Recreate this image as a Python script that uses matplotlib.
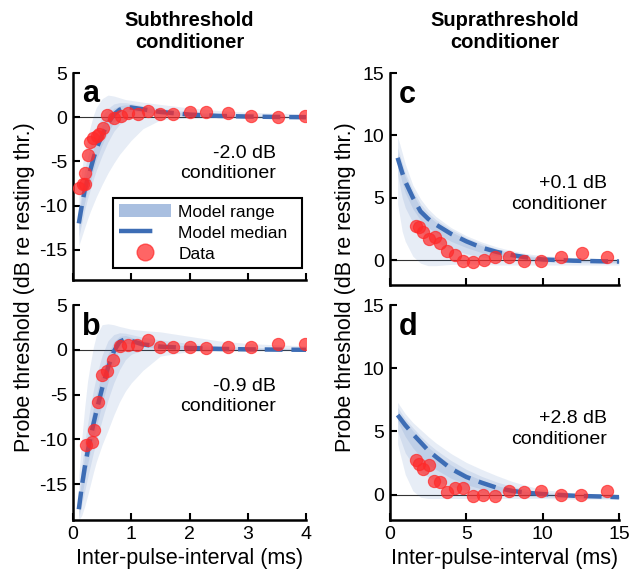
import matplotlib
matplotlib.use("Agg")
import matplotlib.pyplot as plt
from matplotlib.patches import Patch
from matplotlib.lines import Line2D

plt.rcParams["font.family"] = ["Liberation Sans", "DejaVu Sans"]
plt.rcParams["axes.unicode_minus"] = False

# ---- panel a: subthreshold, -2.0 dB ----
xa = [0.1, 0.15, 0.2, 0.25, 0.3, 0.35, 0.4, 0.5, 0.6, 0.7, 0.8, 0.9, 1.0, 1.2, 1.5, 2.0, 2.5, 3.0, 3.5, 4.0]
med_a = [-12.0, -10.0, -8.3, -7.0, -5.9, -4.7, -3.6, -2.0, -0.7, 0.3, 0.85, 1.1, 1.1, 0.9, 0.6, 0.3, 0.15, 0.08, 0.03, 0.0]
outer_hi_a = [-9.0, -6.0, -3.8, -2.3, -1.0, 0.2, 1.1, 2.1, 2.5, 2.4, 2.2, 2.0, 1.9, 1.7, 1.45, 1.05, 0.75, 0.55, 0.45, 0.4]
outer_lo_a = [-14.5, -13.5, -12.5, -11.5, -10.6, -9.8, -9.0, -7.6, -6.3, -5.2, -4.2, -3.4, -2.6, -1.3, -0.3, -0.1, -0.1, -0.1, -0.1, -0.1]
mid_hi_a = [-10.5, -8.0, -6.0, -4.5, -3.3, -2.2, -1.3, 0.1, 1.0, 1.5, 1.65, 1.65, 1.55, 1.3, 1.0, 0.6, 0.4, 0.25, 0.15, 0.1]
mid_lo_a = [-13.5, -12.0, -10.5, -9.2, -8.1, -7.0, -6.0, -4.3, -2.8, -1.6, -0.8, -0.3, 0.0, 0.2, 0.25, 0.1, 0.0, -0.05, -0.05, -0.05]
inner_hi_a = [-11.2, -9.0, -7.2, -5.8, -4.6, -3.5, -2.5, -0.9, 0.3, 1.0, 1.3, 1.4, 1.35, 1.1, 0.8, 0.45, 0.28, 0.15, 0.08, 0.05]
inner_lo_a = [-12.8, -11.2, -9.6, -8.3, -7.2, -6.0, -4.8, -3.1, -1.7, -0.6, 0.2, 0.6, 0.7, 0.6, 0.4, 0.15, 0.05, 0.0, -0.02, -0.03]
ipi_a = [0.11, 0.17, 0.21, 0.21, 0.25, 0.29, 0.35, 0.41, 0.45, 0.51, 0.59, 0.71, 0.83, 0.95, 1.11, 1.29, 1.49, 1.72, 2.0, 2.29, 2.66, 3.05, 3.52, 3.98]
thr_a = [-8.05, -7.6, -7.5, -6.25, -4.3, -2.8, -2.4, -2.1, -1.95, -1.2, 0.2, -0.07, 0.1, 0.48, 0.37, 0.67, 0.37, 0.37, 0.56, 0.6, 0.49, 0.11, 0.0, 0.11]

# ---- panel b: subthreshold, -0.9 dB ----
xb = [0.1, 0.15, 0.2, 0.25, 0.3, 0.35, 0.4, 0.5, 0.6, 0.7, 0.8, 0.9, 1.0, 1.2, 1.5, 2.0, 2.5, 3.0, 3.5, 4.0]
med_b = [-17.8, -15.3, -13.2, -11.4, -9.8, -8.3, -6.9, -4.3, -2.0, -0.2, 0.9, 1.2, 1.0, 0.6, 0.35, 0.2, 0.1, 0.05, 0.02, 0.0]
outer_hi_b = [-14.0, -10.0, -6.5, -3.5, -1.5, 0.3, 1.6, 2.8, 2.9, 2.8, 2.6, 2.45, 2.3, 2.15, 2.0, 1.5, 1.0, 0.7, 0.55, 0.45]
outer_lo_b = [-19.0, -18.5, -17.5, -16.3, -15.0, -13.7, -12.5, -10.6, -9.0, -7.3, -5.8, -4.6, -3.7, -2.3, -0.7, -0.2, -0.15, -0.1, -0.1, -0.1]
mid_hi_b = [-16.0, -13.0, -10.5, -8.3, -6.3, -4.5, -3.0, -0.6, 1.0, 1.7, 1.9, 1.85, 1.7, 1.4, 1.1, 0.7, 0.45, 0.3, 0.2, 0.15]
mid_lo_b = [-18.8, -17.3, -15.8, -14.3, -12.9, -11.5, -10.2, -7.8, -5.6, -3.7, -2.2, -1.1, -0.5, 0.0, 0.05, 0.0, -0.05, -0.05, -0.05, -0.05]
inner_hi_b = [-17.0, -14.2, -11.9, -9.9, -8.1, -6.5, -5.0, -2.5, -0.5, 0.9, 1.5, 1.6, 1.4, 1.0, 0.7, 0.4, 0.25, 0.15, 0.08, 0.05]
inner_lo_b = [-18.5, -16.4, -14.5, -12.8, -11.3, -9.9, -8.6, -6.0, -3.6, -1.5, 0.1, 0.7, 0.7, 0.35, 0.15, 0.05, 0.0, -0.02, -0.03, -0.03]
ipi_b = [0.23, 0.33, 0.36, 0.43, 0.50, 0.59, 0.69, 0.81, 0.95, 1.10, 1.28, 1.49, 1.72, 2.01, 2.29, 2.66, 3.05, 3.52, 3.98]
thr_b = [-10.6, -10.3, -8.9, -5.8, -2.85, -2.36, -1.16, 0.45, 0.52, 0.56, 1.09, 0.26, 0.34, 0.26, 0.19, 0.34, 0.34, 0.64, 0.64]

# ---- panel c: suprathreshold, +0.1 dB ----
xc = [0.5, 0.8, 1.0, 1.5, 2.0, 2.5, 3.0, 4.0, 5.0, 6.0, 7.0, 8.0, 9.0, 10.0, 12.0, 14.0, 15.0]
med_c = [8.2, 7.0, 6.3, 5.0, 3.9, 3.3, 2.85, 2.1, 1.5, 1.0, 0.65, 0.4, 0.2, 0.05, -0.05, -0.1, -0.12]
outer_hi_c = [9.9, 8.6, 7.7, 6.0, 4.9, 4.1, 3.5, 2.6, 1.95, 1.45, 1.05, 0.75, 0.5, 0.35, 0.2, 0.1, 0.1]
outer_lo_c = [4.5, 2.3, 1.5, 0.3, -0.25, -0.45, -0.45, -0.35, -0.3, -0.35, -0.4, -0.4, -0.4, -0.4, -0.4, -0.4, -0.4]
mid_hi_c = [9.0, 7.8, 7.0, 5.6, 4.5, 3.8, 3.25, 2.45, 1.8, 1.3, 0.9, 0.6, 0.38, 0.2, 0.05, 0.0, 0.0]
mid_lo_c = [6.8, 5.0, 4.2, 3.0, 2.3, 1.8, 1.45, 0.9, 0.5, 0.25, 0.1, 0.0, -0.1, -0.15, -0.2, -0.25, -0.25]
inner_hi_c = [8.6, 7.4, 6.7, 5.3, 4.2, 3.55, 3.05, 2.28, 1.65, 1.15, 0.78, 0.5, 0.3, 0.12, 0.0, -0.05, -0.05]
inner_lo_c = [7.6, 6.2, 5.4, 4.1, 3.2, 2.6, 2.2, 1.5, 1.0, 0.6, 0.35, 0.18, 0.05, -0.05, -0.12, -0.16, -0.18]
ipi_c = [1.71, 1.93, 2.15, 2.55, 2.92, 3.25, 3.74, 4.25, 4.8, 5.42, 6.13, 6.9, 7.78, 8.78, 9.89, 11.17, 12.55, 14.2]
thr_c = [2.73, 2.65, 2.26, 1.67, 1.86, 1.33, 0.69, 0.40, -0.1, -0.19, 0.0, 0.21, 0.21, -0.05, -0.05, 0.21, 0.53, 0.21]

# ---- panel d: suprathreshold, +2.8 dB ----
xd = [0.5, 1.0, 1.5, 2.0, 2.5, 3.0, 4.0, 5.0, 6.0, 7.0, 8.0, 9.0, 10.0, 12.0, 14.0, 15.0]
med_d = [6.3, 5.5, 4.8, 4.15, 3.5, 3.0, 2.05, 1.4, 0.95, 0.55, 0.3, 0.15, 0.05, -0.08, -0.15, -0.2]
outer_hi_d = [7.3, 6.4, 5.7, 5.15, 4.6, 4.1, 3.25, 2.55, 2.0, 1.5, 1.05, 0.7, 0.4, 0.15, 0.05, 0.0]
outer_lo_d = [4.0, 1.6, 0.3, -0.2, -0.3, -0.3, -0.3, -0.3, -0.3, -0.3, -0.3, -0.3, -0.3, -0.35, -0.35, -0.35]
mid_hi_d = [6.9, 6.0, 5.3, 4.65, 4.05, 3.55, 2.7, 2.0, 1.45, 1.0, 0.65, 0.4, 0.2, 0.0, -0.05, -0.1]
mid_lo_d = [5.0, 3.3, 2.4, 1.8, 1.4, 1.1, 0.65, 0.35, 0.15, 0.0, -0.1, -0.15, -0.2, -0.25, -0.3, -0.3]
inner_hi_d = [6.6, 5.8, 5.05, 4.4, 3.75, 3.25, 2.35, 1.65, 1.15, 0.72, 0.42, 0.25, 0.1, -0.03, -0.1, -0.15]
inner_lo_d = [5.8, 4.6, 3.7, 3.0, 2.4, 2.0, 1.3, 0.8, 0.45, 0.22, 0.08, 0.0, -0.07, -0.15, -0.22, -0.25]
ipi_d = [1.7, 1.92, 2.19, 2.54, 2.85, 3.3, 3.74, 4.25, 4.8, 5.42, 6.12, 6.9, 7.78, 8.78, 9.89, 11.17, 12.54, 14.2]
thr_d = [2.75, 2.43, 2.04, 2.38, 1.11, 0.98, 0.24, 0.53, 0.53, -0.08, 0.0, -0.08, 0.32, 0.24, 0.32, 0.0, 0.0, 0.26]

BLUE = "#3d6db5"
RED = "#ff2a2a"

fig = plt.figure(figsize=(6.42, 5.75), dpi=100)
ax_a = fig.add_axes([73 / 642, 1 - 280 / 575, 233 / 642, 207 / 575])
ax_b = fig.add_axes([73 / 642, 1 - 520 / 575, 233 / 642, 215 / 575])
ax_c = fig.add_axes([390 / 642, 1 - 285 / 575, 229 / 642, 212 / 575])
ax_d = fig.add_axes([390 / 642, 1 - 520 / 575, 229 / 642, 215 / 575])

panels = [
    (ax_a, "a", xa, med_a, (outer_lo_a, outer_hi_a), (mid_lo_a, mid_hi_a), (inner_lo_a, inner_hi_a), ipi_a, thr_a, "-2.0 dB\nconditioner", (3.48, -5.2)),
    (ax_b, "b", xb, med_b, (outer_lo_b, outer_hi_b), (mid_lo_b, mid_hi_b), (inner_lo_b, inner_hi_b), ipi_b, thr_b, "-0.9 dB\nconditioner", (3.48, -5.2)),
    (ax_c, "c", xc, med_c, (outer_lo_c, outer_hi_c), (mid_lo_c, mid_hi_c), (inner_lo_c, inner_hi_c), ipi_c, thr_c, "+0.1 dB\nconditioner", (14.2, 5.3)),
    (ax_d, "d", xd, med_d, (outer_lo_d, outer_hi_d), (mid_lo_d, mid_hi_d), (inner_lo_d, inner_hi_d), ipi_d, thr_d, "+2.8 dB\nconditioner", (14.2, 5.2)),
]

for ax, letter, x, med, outer, mid, inner, ipi, thr, note, note_xy in panels:
    ax.axhline(0, color="#333333", lw=0.8, zorder=1)
    for lo, hi in (outer, mid, inner):
        ax.fill_between(x, lo, hi, color=BLUE, alpha=0.12, lw=0, zorder=2)
    ln, = ax.plot(x, med, color=BLUE, lw=3.2, zorder=3)
    ln.set_dashes([4, 2])
    ax.plot(ipi, thr, "o", ms=8.8, color=RED, alpha=0.72, mec=RED, mew=0.8, zorder=4)
    ax.text(0.04, 0.86, letter, transform=ax.transAxes, fontsize=22, fontweight="bold", va="baseline")
    ax.text(note_xy[0], note_xy[1], note, ha="right", va="center", multialignment="right",
            fontsize=14, linespacing=1.25)
    for side in ("top", "right"):
        ax.spines[side].set_visible(False)
    for side in ("left", "bottom"):
        ax.spines[side].set_linewidth(1.8)
    ax.tick_params(direction="in", length=5, width=1.5, labelsize=14, pad=4)

for ax in (ax_a, ax_b):
    ax.set_xlim(0, 4)
    ax.set_ylim(-19, 5)
    ax.set_yticks([-15, -10, -5, 0, 5])
    ax.set_xticks([0, 1, 2, 3, 4])
ax_a.set_ylim(-18.4, 5)
for ax in (ax_c, ax_d):
    ax.set_xlim(0, 15)
    ax.set_ylim(-2, 15)
    ax.set_yticks([0, 5, 10, 15])
    ax.set_xticks([0, 5, 10, 15])
ax_a.set_xticklabels([])
ax_c.set_xticklabels([])

ax_b.set_xlabel("Inter-pulse-interval (ms)", fontsize=15.5)
ax_d.set_xlabel("Inter-pulse-interval (ms)", fontsize=15.5)
ax_a.set_title("Subthreshold\nconditioner", fontsize=14.5, fontweight="bold", pad=18)
ax_c.set_title("Suprathreshold\nconditioner", fontsize=14.5, fontweight="bold", pad=18)

fig.text(25 / 642, 1 - 287 / 575, "Probe threshold (dB re resting thr.)", rotation=90,
         ha="center", va="center", fontsize=15.5)
fig.text(345 / 642, 1 - 287 / 575, "Probe threshold (dB re resting thr.)", rotation=90,
         ha="center", va="center", fontsize=15.5)

handles = [
    Patch(facecolor="#a9bfe0", edgecolor="none"),
    Line2D([], [], color=BLUE, lw=3.2, dashes=[7.5, 20]),
    Line2D([], [], marker="o", ls="none", ms=12, color=RED, alpha=0.72, mec=RED),
]
leg = ax_a.legend(handles, ["Model range", "Model median", "Data"], loc="upper left",
                  bbox_to_anchor=(0.172, 0.396, 0.811, 0.0), mode="expand", fontsize=12.5,
                  frameon=True, fancybox=False, framealpha=1, edgecolor="black",
                  handlelength=3.0, handleheight=0.8, handletextpad=0.4, borderpad=0.35,
                  labelspacing=0.3, borderaxespad=0)
leg.get_frame().set_linewidth(1.5)

fig.savefig("out.png", dpi=100)
